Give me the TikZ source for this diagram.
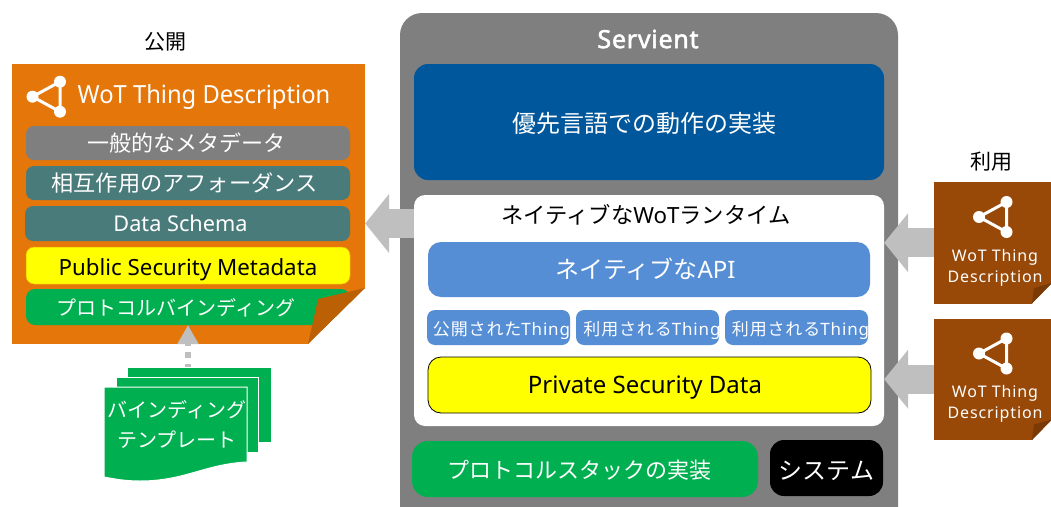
\documentclass[tikz,border=0pt]{standalone}
\usepackage{fontspec}
\setmainfont{Noto Sans}
\newfontfamily\jpf{Noto Sans CJK JP}
\newfontfamily\jpfs[LetterSpace=5]{Noto Sans CJK JP}
\newcommand{\jp}[1]{{\jpf #1}}
% \ts{dx}{dy}{text}: text centred dx right of the node centre, baseline dy below it
\newcommand{\ts}[3]{\raisebox{-#2pt}[0pt][0pt]{\makebox[0pt]{\hspace*{#1pt}\hspace*{#1pt}#3}}}
\usetikzlibrary{arrows.meta}
\definecolor{orangedoc}{HTML}{E4760A}
\definecolor{orangefold}{HTML}{BC6006}
\definecolor{browndoc}{HTML}{984807}
\definecolor{brownfold}{HTML}{7A3A06}
\definecolor{midgrey}{HTML}{7F7F7F}
\definecolor{tealbox}{HTML}{4A7B7B}
\definecolor{greenbox}{HTML}{00B050}
\definecolor{apiblue}{HTML}{558ED5}
\definecolor{deepblue}{HTML}{01579B}
\definecolor{arrowgrey}{HTML}{BFBFBF}
\definecolor{pureyellow}{RGB}{255,255,0}
\tikzset{
  box/.style={rounded corners=#1,inner sep=0pt},
  box/.default=9pt,
  whitetext/.style={text=white},
  blockarrow/.style={draw=arrowgrey,line width=29pt,-{Triangle[length=24pt,width=58pt,fill=arrowgrey]}},
  dotarrow/.style={draw=arrowgrey,line width=6pt,dash pattern=on 6pt off 6pt,-{Triangle[length=19pt,width=20pt,fill=arrowgrey]}},
  sheet/.style={fill=greenbox,draw=white,line width=1pt},
  iconline/.style={draw=white,line width=3pt},
  icondot/.style={circle,fill=white,inner sep=0pt,minimum size=#1},
  thingtext/.style={whitetext,font=\addfontfeature{LetterSpace=5}\fontsize{17}{20}\selectfont},
}
% \bx{name}{x1}{y1}{x2}{y2}{style}{text}
\newcommand{\bx}[7]{\pgfmathsetmacro{\bw}{#4-#2}\pgfmathsetmacro{\bh}{#5-#3}\pgfmathsetmacro{\bcx}{(#2+#4)/2}\pgfmathsetmacro{\bcy}{-(#3+#5)/2}%
  \node[#6,minimum width=\bw pt,minimum height=\bh pt] (#1) at (\bcx,\bcy) {#7};}
% \wotlogo{prefix}{x}{y}: three-dot icon with left dot at x,y (y downwards)
\newcommand{\wotlogo}[3]{%
  \pgfmathsetmacro{\lgy}{-(#3)}\pgfmathsetmacro{\lgt}{-(#3)+15}\pgfmathsetmacro{\lgb}{-(#3)-15}\pgfmathsetmacro{\lgx}{#2+27.5}%
  \node[icondot=12pt] (#1a) at (#2,\lgy) {};
  \node[icondot=12pt] (#1b) at (\lgx,\lgt) {};
  \node[icondot=12pt] (#1c) at (\lgx,\lgb) {};
  \draw[iconline] (#1a.center) -- (#1b.center) -- (#1c.center) -- cycle;}
\begin{document}
\begin{tikzpicture}[x=1pt,y=1pt]
\useasboundingbox (0,0) rectangle (1051,-506);
\begin{scope}
\clip (0,0) rectangle (1051,-506);
\bx{servient}{400}{13}{898}{530}{box=22pt,fill=midgrey}{}
\end{scope}
\node[font=\addfontfeature{FakeBold=2,LetterSpace=3}\fontsize{25}{28}\selectfont,text=white] (servtitle) at (648,-39) {Servient};
\bx{impl}{414}{64}{884}{180}{box=14pt,fill=deepblue,whitetext,font=\fontsize{24}{28}\selectfont}{\ts{-5}{10}{\jp{優先言語での動作の実装}}}
\bx{runtime}{414}{195}{884}{426}{box=11pt,fill=white}{}
\node[font=\fontsize{22.3}{26}\selectfont] (rttitle) at (646,-215) {\jp{ネイティブな}WoT\jp{ランタイム}};
\bx{api}{428}{242}{870}{297}{box=13pt,fill=apiblue,whitetext,font=\fontsize{24}{28}\selectfont}{\ts{-3.5}{9.3}{\jp{ネイティブな}API}}
\bx{th1}{427}{310}{570}{345}{box=8pt,fill=apiblue,thingtext}{\ts{3}{7.5}{{\jpfs 公開された}Thing}}
\bx{th2}{576}{310}{719}{345}{box=8pt,fill=apiblue,thingtext}{\ts{4.5}{7.5}{{\jpfs 利用される}Thing}}
\bx{th3}{725}{310}{868}{345}{box=8pt,fill=apiblue,thingtext}{\ts{4}{7.5}{{\jpfs 利用される}Thing}}
\bx{priv}{428}{357}{871}{413}{box=13pt,fill=pureyellow,draw=black,line width=0.8pt,font=\fontsize{24}{28}\selectfont}{\ts{-4.5}{8.3}{Private Security Data}}
\bx{stack}{412}{441}{758}{497}{box=16pt,fill=greenbox,whitetext,font=\fontsize{22}{26}\selectfont}{\ts{-5.5}{9.4}{\jp{プロトコルスタックの実装}}}
\bx{sys}{770}{440}{883}{496}{box=14pt,fill=black,whitetext,font=\fontsize{24}{28}\selectfont}{\ts{0}{11}{\jp{システム}}}
% published TD
\node[font=\fontsize{21}{25}\selectfont] (pub) at (165,-42) {\jp{公開}};
\bx{td}{12}{64}{365}{344}{fill=orangedoc,rounded corners=0pt}{}
\wotlogo{tdi}{32.5}{96.7}
\node[font=\addfontfeature{FakeStretch=0.95}\fontsize{25}{30}\selectfont,text=white] (tdtitle) at (204,-97) {WoT Thing Description};
\bx{meta}{26}{126}{350}{160}{box=8pt,fill=midgrey,whitetext,font=\fontsize{22}{26}\selectfont}{\ts{-1.5}{8.4}{\jp{一般的なメタデータ}}}
\bx{inter}{26}{166}{350}{200}{box=8pt,fill=tealbox,whitetext,font=\fontsize{22.2}{26}\selectfont}{\ts{-3.5}{8.7}{\jp{相互作用のアフォーダンス}}}
\bx{schema}{25}{206}{350}{241}{box=8pt,fill=tealbox,whitetext,font=\fontsize{21.7}{26}\selectfont}{\ts{-7}{8.2}{Data Schema}}
\bx{pubsec}{26}{247}{350}{284}{box=8pt,fill=pureyellow,draw=orangedoc!60!yellow,line width=0.5pt,font=\fontsize{22.3}{26}\selectfont}{\ts{0}{9.5}{Public Security Metadata}}
\bx{bind}{26}{289}{350}{325}{box=9pt,fill=greenbox,whitetext,font=\fontsize{20}{24}\selectfont}{\ts{-12}{8.9}{\jp{プロトコルバインディング}}}
\fill[white] (365,-288) -- (366,-288) -- (366,-345) -- (308,-345) -- (308,-344) -- cycle;
\fill[orangefold] (308,-344) -- (318,-299) -- (365,-288) -- cycle;
% arrows
\draw[blockarrow] (runtime.west |- 0,-223.5) -- (td.east |- 0,-223.5);
\coordinate (dotstart) at (188,-370);
\draw[dotarrow] (dotstart) -- (188,-325);
% template stack
\path[sheet] (127,-367) -- (271,-367) -- (271,-442.5) -- (127,-442.5) -- cycle;
\path[sheet] (116,-377) -- (258,-377) -- (258,-452.5) -- (116,-452.5) -- cycle;
\path[sheet] (104,-387) -- (247,-387) -- (247,-462) .. controls (205,-464) and (185,-481) .. (140,-481) .. controls (125,-481) and (115,-479) .. (104,-477) -- cycle;
\node[text=white,align=center,font=\fontsize{20}{30}\selectfont] (tmpl) at (177,-424) {\jp{バインディング}\\\jp{テンプレート}};
% consumed TDs
\node[font=\fontsize{21}{25}\selectfont] (use) at (991,-162) {\jp{利用}};
\newcommand{\consumed}[2]{%
  \pgfmathsetmacro{\ytop}{#2}\pgfmathsetmacro{\ybot}{#2+121.5}
  \bx{#1}{934}{\ytop}{1052}{\ybot}{fill=browndoc,rounded corners=0pt}{}
  \fill[white] (1052,-#2-101) -- (1052,-#2-122) -- (1032,-#2-122) -- (1032,-#2-121.5) -- cycle;
  \fill[brownfold] (1032,-#2-121.5) -- (1034,-#2-106) -- (1052,-#2-101) -- cycle;
  \wotlogo{#1i}{979}{#2+35}
  \node[text=white,align=center,font=\addfontfeature{LetterSpace=5.5}\fontsize{16}{21}\selectfont] (#1t) at (995,-#2-85.5) {WoT Thing\\Description};
  \draw[blockarrow] (#1.west) -- (runtime.east |- #1.west);
}
\consumed{cta}{182}
\consumed{ctb}{318.5}
\end{tikzpicture}
\end{document}
